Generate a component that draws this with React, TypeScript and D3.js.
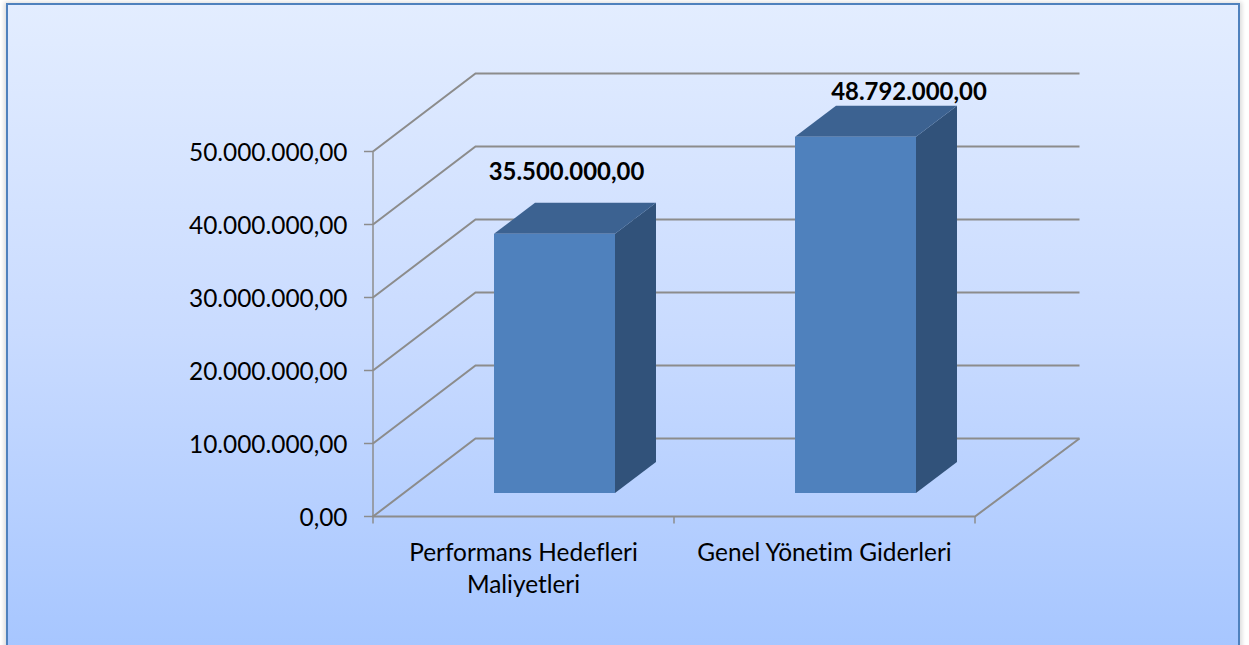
import React from "react";
import * as d3 from "d3";

const categories = ["Performans Hedefleri|Maliyetleri", "Genel Yönetim Giderleri"];
const seriesValues = [35500000, 48792000];
const valueLabels = ["35.500.000,00", "48.792.000,00"];
const tickValues = [0, 10000000, 20000000, 30000000, 40000000, 50000000];
const tickLabels = ["0,00", "10.000.000,00", "20.000.000,00", "30.000.000,00", "40.000.000,00", "50.000.000,00"];

const FONT = "Lato, 'Open Sans', sans-serif";
const GRID = "#8c8c8c";
const dx = 102.5, dy = -78;
const barDx = 41, barDy = -31;

export default function App() {
  const y = d3.scaleLinear().domain([0, 50000000]).range([516.5, 151.5]);
  const x = d3.scaleBand<number>().domain([0, 1]).range([373, 975]);
  const barLeft = [494, 795];
  const barW = 121;
  const barBottom = 493;
  const pxPerUnit = (y(0) - y(10000000)) / 10000000;
  const line = d3.line();
  const labelY = [180, 100];
  const labelX = [566.5, 909];

  return (
    <svg width={1249} height={645} style={{ position: "absolute", left: 0, top: 0, background: "#fff", fontVariantLigatures: "none" }} fontFamily={FONT}>
      <defs>
        <linearGradient id="bg" x1="0" y1="0" x2="0" y2="1">
          <stop offset="0" stopColor="#E3EDFF" />
          <stop offset="0.5" stopColor="#C9DBFF" />
          <stop offset="1" stopColor="#A5C5FF" />
        </linearGradient>
        <filter id="sh" x="-2%" y="-2%" width="104%" height="104%">
          <feGaussianBlur stdDeviation="2" />
        </filter>
      </defs>
      <rect x={4} y={2} width={1238} height={660} fill="#000" opacity={0.14} filter="url(#sh)" />
      <rect x={7} y={4} width={1232} height={660} fill="url(#bg)" stroke="#4F81BD" strokeWidth={2} />

      {/* walls and gridlines */}
      <path d={`M${x.range()[0]},${y(0)}V${y(50000000)}`} stroke={GRID} strokeWidth={1.5} fill="none" />
      {tickValues.map((t, i) => (
        <g key={t}>
          <path
            d={line([[x.range()[0], y(t)], [x.range()[0] + dx, y(t) + dy], [x.range()[1] + dx + 2, y(t) + dy]]) ?? ""}
            stroke={GRID} strokeWidth={2} fill="none"
          />
          <line x1={x.range()[0] - 9} x2={x.range()[0]} y1={y(t)} y2={y(t)} stroke={GRID} strokeWidth={1.5} />
          <text x={347.5} y={y(t) + 9} textAnchor="end" fontSize={24.4} fill="#000">{tickLabels[i]}</text>
        </g>
      ))}
      {/* floor */}
      <path d={`M${x.range()[0] - 1},${y(0)}H${x.range()[1]}L${x.range()[1] + dx + 2},${y(0) + dy}`} stroke={GRID} strokeWidth={2} fill="none" />
      {[0, 1, 2].map((i) => {
        const px = i < 2 ? x(i as number)! : x.range()[1];
        return <line key={i} x1={px} x2={px} y1={y(0)} y2={y(0) + 7} stroke={GRID} strokeWidth={1.5} />;
      })}

      {/* bars */}
      {seriesValues.map((v, i) => {
        const l = barLeft[i], r = l + barW, b = barBottom, t = b - v * pxPerUnit;
        return (
          <g key={i}>
            <path d={`M${r},${b}L${r + barDx},${b + barDy}V${t + barDy}L${r},${t}Z`} fill="#31527A" />
            <path d={`M${l},${t}L${l + barDx},${t + barDy}H${r + barDx}L${r},${t}Z`} fill="#3C6291" />
            <rect x={l} y={t} width={barW} height={b - t} fill="#4F81BD" />
            <text x={labelX[i]} y={labelY[i]} textAnchor="middle" fontSize={23.9} fontWeight={700} fill="#000">{valueLabels[i]}</text>
          </g>
        );
      })}

      {/* category labels */}
      {categories.map((c, i) => (
        <text key={c} textAnchor="middle" fontSize={24.4} fill="#000">
          {c.split("|").map((part, j) => (
            <tspan key={j} x={x(i)! + x.bandwidth() / 2} y={561 + j * 32}>{part}</tspan>
          ))}
        </text>
      ))}
    </svg>
  );
}
